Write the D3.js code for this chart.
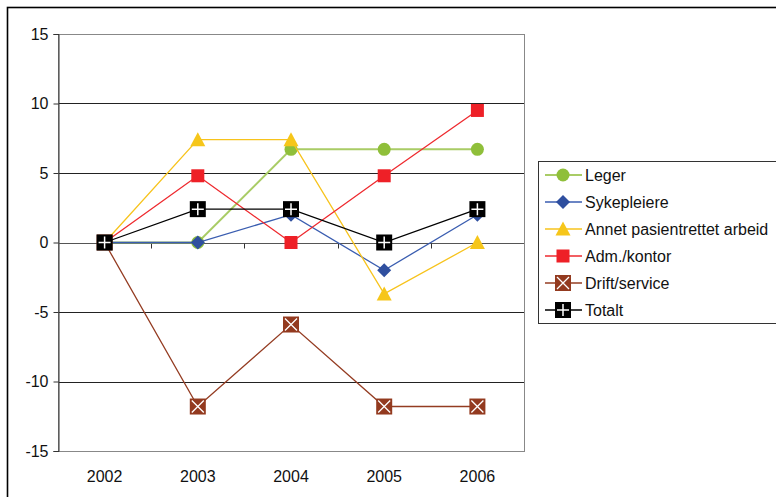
<!DOCTYPE html>
<html>
<head>
<meta charset="utf-8">
<script src="https://cdn.jsdelivr.net/npm/d3@7"></script>
<style>
  html, body { margin: 0; padding: 0; background: #fff; }
  svg { display: block; font-family: "Liberation Sans", Arial, sans-serif; }
</style>
</head>
<body>
<svg id="chart" width="776" height="497"></svg>
<script>
// Years on the category axis
const years = ["2002", "2003", "2004", "2005", "2006"];
// Change per staff group
const leger = [0, 0, 6.7, 6.7, 6.7];
const sykepleiere = [0, 0, 2.0, -2.0, 2.0];
const annet = [0, 7.4, 7.4, -3.7, 0];
const adm = [0, 4.8, 0, 4.8, 9.5];
const drift = [0, -11.8, -5.9, -11.8, -11.8];
const totalt = [0, 2.4, 2.4, 0, 2.4];
const yTicks = [-15, -10, -5, 0, 5, 10, 15];

const series = [
  { name: "Leger", values: leger, line: "#a9cc66", lw: 2, fill: "#8fbf3a", shape: "circle" },
  { name: "Sykepleiere", values: sykepleiere, line: "#3a5db0", lw: 1.3, fill: "#2f4f9f", shape: "diamond" },
  { name: "Annet pasientrettet arbeid", values: annet, line: "#f7c31c", lw: 1.3, fill: "#f6c61a", shape: "triangle" },
  { name: "Adm./kontor", values: adm, line: "#ee2a2f", lw: 1.3, fill: "#ee2027", shape: "square" },
  { name: "Drift/service", values: drift, line: "#943c22", lw: 1.3, fill: "#933a1f", shape: "xsquare" },
  { name: "Totalt", values: totalt, line: "#000000", lw: 1.3, fill: "#000000", shape: "plus" }
];

const FONT = 16;
const svg = d3.select("#chart");

// Outer chart frame
svg.append("rect").attr("x", 7.5).attr("y", 7.5).attr("width", 800).attr("height", 600)
  .attr("fill", "none").attr("stroke", "#000").attr("stroke-width", 1.6);

const plot = { left: 58, top: 34, right: 524, bottom: 451 };

const x = d3.scaleBand().domain(years).range([plot.left, plot.right]).padding(0);
const y = d3.scaleLinear().domain([-15, 15]).range([plot.bottom, plot.top]);
const cx = d => x(d) + x.bandwidth() / 2;

// Horizontal gridlines
svg.append("g").selectAll("line").data(yTicks.filter(t => t > -15 && t < 15)).join("line")
  .attr("x1", plot.left).attr("x2", plot.right)
  .attr("y1", d => Math.round(y(d)) + 0.5).attr("y2", d => Math.round(y(d)) + 0.5)
  .attr("stroke", "#222").attr("stroke-width", 1);

// Plot area border
svg.append("rect").attr("x", plot.left + 0.5).attr("y", plot.top + 0.5)
  .attr("width", plot.right - plot.left).attr("height", plot.bottom - plot.top)
  .attr("fill", "none").attr("stroke", "#888").attr("stroke-width", 1);

// Y axis
const yAxis = d3.axisLeft(y).tickValues(yTicks).tickSize(5).tickPadding(5)
  .tickFormat(d => String(d));
const gy = svg.append("g").attr("transform", `translate(${plot.left + 0.5},0)`).call(yAxis);
gy.select(".domain").attr("stroke", "#333");
gy.selectAll(".tick line").attr("stroke", "#333");
gy.selectAll(".tick text").attr("font-size", FONT).attr("fill", "#111")
  .attr("font-family", "Liberation Sans, Arial, sans-serif");

// Category axis along zero, with ticks between categories
const zeroY = Math.round(y(0)) + 0.5;
svg.append("line").attr("x1", plot.left).attr("x2", plot.right).attr("y1", zeroY).attr("y2", zeroY)
  .attr("stroke", "#555").attr("stroke-width", 1.2);
svg.append("g").selectAll("line").data(years.slice(1)).join("line")
  .attr("x1", d => Math.round(x(d)) + 0.5).attr("x2", d => Math.round(x(d)) + 0.5)
  .attr("y1", zeroY).attr("y2", zeroY + 5).attr("stroke", "#333");

// Category labels below the plot
svg.append("g").selectAll("text").data(years).join("text")
  .attr("x", d => cx(d)).attr("y", 482).attr("text-anchor", "middle")
  .attr("font-size", FONT).attr("fill", "#111").text(d => d);

// Marker drawing
function drawMarker(g, shape, fill) {
  if (shape === "circle") {
    g.append("circle").attr("r", 6.5).attr("fill", fill);
  } else if (shape === "diamond") {
    g.append("path").attr("d", "M0,-7L7,0L0,7L-7,0Z").attr("fill", fill);
  } else if (shape === "triangle") {
    g.append("path").attr("d", "M0,-7.5L7.5,6.5L-7.5,6.5Z").attr("fill", fill);
  } else if (shape === "square") {
    g.append("rect").attr("x", -6.5).attr("y", -6.5).attr("width", 13).attr("height", 13).attr("fill", fill);
  } else if (shape === "xsquare") {
    g.append("rect").attr("x", -8).attr("y", -8).attr("width", 16).attr("height", 16).attr("fill", fill);
    g.append("path").attr("d", "M-6,-6L6,6M6,-6L-6,6").attr("stroke", "#fff").attr("stroke-width", 1.3);
  } else if (shape === "plus") {
    g.append("rect").attr("x", -8).attr("y", -8).attr("width", 16).attr("height", 16).attr("fill", fill);
    g.append("path").attr("d", "M0,-6L0,6M-6,0L6,0").attr("stroke", "#fff").attr("stroke-width", 1.5);
  }
}

const line = d3.line().x((d, i) => cx(years[i])).y(d => y(d));

// Series lines and markers
series.forEach(s => {
  svg.append("path").datum(s.values).attr("d", line)
    .attr("fill", "none").attr("stroke", s.line).attr("stroke-width", s.lw);
  s.values.forEach((v, i) => {
    const g = svg.append("g").attr("transform", `translate(${cx(years[i])},${y(v)})`);
    drawMarker(g, s.shape, s.fill);
  });
});

// Legend
const legend = svg.append("g");
legend.append("rect").attr("x", 538.5).attr("y", 161.5).attr("width", 300).attr("height", 162)
  .attr("fill", "#fff").attr("stroke", "#333").attr("stroke-width", 1);
series.forEach((s, i) => {
  const ly = 175 + i * 27;
  legend.append("line").attr("x1", 545).attr("x2", 582).attr("y1", ly).attr("y2", ly)
    .attr("stroke", s.line).attr("stroke-width", s.lw);
  const g = legend.append("g").attr("transform", `translate(563,${ly})`);
  drawMarker(g, s.shape, s.fill);
  legend.append("text").attr("x", 585).attr("y", ly + 6).attr("font-size", FONT)
    .attr("fill", "#111").text(s.name);
});
</script>
</body>
</html>
